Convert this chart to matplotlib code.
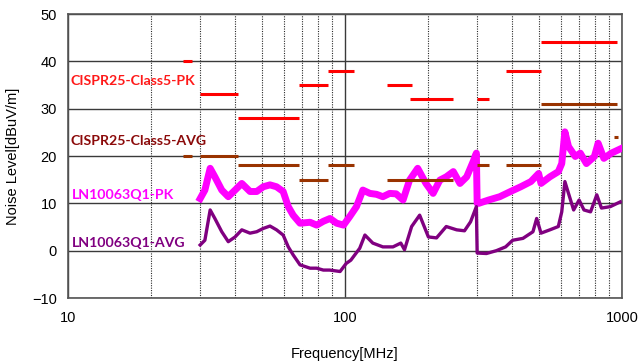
import matplotlib
matplotlib.use('Agg')
import matplotlib.pyplot as plt
from matplotlib.ticker import LogLocator, NullFormatter, FixedLocator

# CISPR25 class 5 limit segments (MHz, dBuV/m)
pk_lo = [26, 30, 41, 68, 87, 142, 171, 300, 380, 510]
pk_hi = [28, 41, 68, 87, 108, 175, 245, 330, 512, 960]
pk_lvl = [40, 33, 28, 35, 38, 35, 32, 32, 38, 44]

avg_lo = [26, 30, 41, 68, 87, 142, 171, 300, 380, 510, 935]
avg_hi = [28, 41, 68, 87, 108, 175, 245, 330, 512, 960, 965]
avg_lvl = [20, 20, 18, 15, 18, 15, 15, 18, 18, 31, 24]

# measured noise, peak detector
pk_f = [30, 31.2, 32.6, 33.9, 35.9, 37.9, 40.1, 42.4, 45.4, 48.0, 50.7, 53.6, 56.6, 59.8,
        62.4, 65.0, 68.8, 74.8, 79.0, 83.5, 88.3, 93.3, 98.8, 104, 110, 116, 123, 130, 137,
        145, 153, 162, 171, 183, 196, 208, 220, 232, 246, 260, 275, 291, 298, 300, 304, 330,
        362, 396, 431, 469, 500, 510, 549, 589, 606, 622, 641, 678, 707, 744, 795, 820, 860,
        915, 995]
pk_v = [11.0, 12.8, 17.4, 15.6, 12.8, 11.4, 12.8, 14.2, 12.5, 12.5, 13.5, 13.9, 13.5, 12.5,
        9.3, 7.5, 5.8, 6.0, 5.4, 6.2, 6.8, 5.8, 5.4, 7.2, 9.3, 12.8, 12.1, 11.9, 11.4,
        12.1, 12.0, 10.7, 14.9, 17.4, 14.2, 12.1, 14.9, 15.6, 16.7, 14.2, 15.6, 19.0, 20.6, 10.0, 10.0, 10.7,
        11.4, 12.5, 13.5, 14.6, 16.3, 14.2, 15.6, 16.7, 18.4, 25.1, 22.0, 19.9, 20.6, 18.4, 19.9, 22.7, 19.5,
        20.6, 21.6]

# measured noise, average detector
av_f = [30, 31.2, 32.6, 33.9, 35.9, 37.9, 40.1, 42.4, 45.4, 48.0, 50.7, 53.6, 56.6, 59.8,
        62.4, 65.0, 68.8, 74.8, 79.0, 83.5, 88, 96, 101, 105, 113, 118, 126, 137, 149, 159,
        164, 174, 186, 200, 214, 232, 253, 270, 284, 298, 300, 324, 352, 380, 403, 439, 477,
        492, 510, 549, 589, 606, 622, 641, 669, 700, 729, 770, 811, 843, 907, 985]
av_v = [1.2, 2.2, 8.6, 6.8, 4.0, 1.9, 2.9, 4.4, 3.7, 4.0, 4.7, 5.2, 4.4, 3.3,
        0.8, -0.9, -3.0, -3.7, -3.7, -4.1, -4.1, -4.4, -2.7, -2.0, 0.5, 3.3, 1.6, 0.8, 0.8, 1.6,
        0.2, 5.1, 7.5, 2.9, 2.7, 5.1, 4.4, 4.2, 6.1, 9.3, -0.5, -0.6, 0.0, 0.8, 2.2, 2.6, 4.0,
        6.8, 3.7, 4.4, 5.1, 8.2, 14.6, 12.1, 8.6, 10.7, 8.6, 8.2, 11.8, 9.0, 9.3, 10.3]

fig = plt.figure(figsize=(6.4, 3.62), dpi=100)
ax = fig.add_axes([68/640, 1-298/362, 554/640, 284/362])

ax.set_xscale('log')
ax.set_xlim(10, 1000)
ax.set_ylim(-10, 50)
ax.set_yticks(range(-10, 51, 10))
ax.xaxis.set_major_locator(FixedLocator([10, 100, 1000]))
ax.xaxis.set_major_formatter(matplotlib.ticker.FixedFormatter(['10', '100', '1000']))
ax.xaxis.set_minor_locator(LogLocator(base=10, subs=range(2, 10)))
ax.xaxis.set_minor_formatter(NullFormatter())

ax.grid(True, which='major', axis='both', color='#3a3a3a', lw=1.0, ls='-')
ax.grid(True, which='minor', axis='x', color='#2a2a2a', lw=0.8, ls=(0, (1, 1.2)))
ax.set_axisbelow(True)
for s in ax.spines.values():
    s.set_color('#555555')
    s.set_linewidth(1.2)
ax.tick_params(which='both', length=0)
ax.tick_params(axis='x', pad=9)
ax.tick_params(axis='y', pad=8)
for lab in ax.get_xticklabels() + ax.get_yticklabels():
    lab.set_fontfamily('Liberation Sans')
    lab.set_fontsize(10.5)

ax.hlines(pk_lvl, pk_lo, pk_hi, colors='#ff0000', lw=2.2, zorder=4)
ax.hlines(avg_lvl, avg_lo, avg_hi, colors='#993300', lw=2.2, zorder=4)
ax.plot(pk_f, pk_v, color='#ff00ff', lw=5, solid_joinstyle='round', zorder=3)
ax.plot(av_f, av_v, color='#800080', lw=2.4, solid_joinstyle='round', zorder=3)

tf = dict(family='Lato', weight='bold', fontsize=10.2, ha='left', va='center', zorder=5)
ax.text(10.25, 35.8, 'CISPR25-Class5-PK', color='#ff1a1a', **tf)
ax.text(10.25, 23.2, 'CISPR25-Class5-AVG', color='#8b0a0a', **tf)
ax.text(10.3, 11.8, 'LN10063Q1-PK', color='#ff00ff', **tf)
ax.text(10.3, 1.7, 'LN10063Q1-AVG', color='#800080', **tf)

ax.set_xlabel('Frequency[MHz]', family='Liberation Sans', fontsize=10.5, labelpad=16)
ax.set_ylabel('Noise Level[dBuV/m]', family='Liberation Sans', fontsize=10.5, labelpad=9)

fig.savefig('out.png', dpi=100)
